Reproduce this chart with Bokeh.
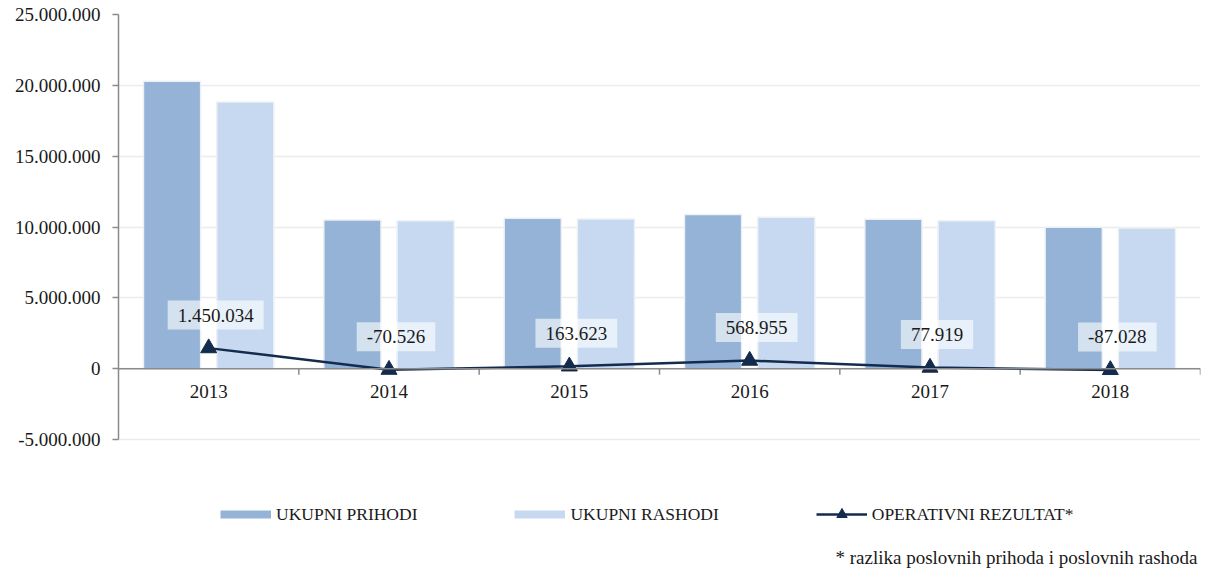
import numpy as np
from bokeh.plotting import figure
from bokeh.models import (ColumnDataSource, Range1d, FixedTicker, Span,
                          Legend, LegendItem, Label)
from bokeh.transform import dodge
from bokeh.core.properties import value
from bokeh.embed import file_html
from bokeh.resources import INLINE

# ---------------- data ----------------
years = ["2013", "2014", "2015", "2016", "2017", "2018"]
ukupni_prihodi = [20_280_000, 10_490_000, 10_610_000, 10_890_000, 10_540_000, 9_980_000]
ukupni_rashodi = [18_820_000, 10_450_000, 10_560_000, 10_680_000, 10_450_000, 9_930_000]
operativni_rezultat = [1_450_034, -70_526, 163_623, 568_955, 77_919, -87_028]
y_ticks = [-5_000_000, 0, 5_000_000, 10_000_000, 15_000_000, 20_000_000, 25_000_000]
series_names = ["UKUPNI PRIHODI", "UKUPNI RASHODI", "OPERATIVNI REZULTAT*"]
footnote = "* razlika poslovnih prihoda i poslovnih rashoda"


def fmt(v):
    return f"{v:,}".replace(",", ".")


FONT = "Liberation Serif"
TXT = "#1a1a1a"
C_PRI = "#95b3d7"
C_RAS = "#c6d9f1"
C_LINE = "#132b4d"
AX = "#8a8a8a"

# layout (pixels)
FIG_W, FIG_H = 1205, 568
BORDER_L, BORDER_R, BORDER_T = 118, 5, 14
AXIS_PX = 425                      # pixel height of the value axis span
FRAME_H = FIG_H - BORDER_T         # frame reaches the bottom of the canvas
y_lo, y_hi = y_ticks[0], y_ticks[-1]
y_start = y_hi - FRAME_H * (y_hi - y_lo) / AXIS_PX

pos = list(range(1, len(years) + 1))
bounds = [i + 0.5 for i in pos]
src = ColumnDataSource(dict(
    x=pos,
    zero=[0] * len(pos),
    year=years,
    pri=ukupni_prihodi,
    ras=ukupni_rashodi,
    op=operativni_rezultat,
    lab=[fmt(v) for v in operativni_rezultat],
))

p = figure(width=FIG_W, height=FIG_H, output_backend="svg", toolbar_location=None,
           x_range=Range1d(0.5, len(years) + 0.5),
           y_range=Range1d(y_start, y_hi),
           x_axis_location=None,
           min_border_left=BORDER_L, min_border_right=BORDER_R,
           min_border_top=BORDER_T, min_border_bottom=0)
p.outline_line_color = None
p.background_fill_color = "white"
p.xgrid.grid_line_color = None
p.xgrid.visible = False

# y axis
yax = p.yaxis[0]
yax.ticker = FixedTicker(ticks=y_ticks)
yax.bounds = (y_lo, y_hi)
yax.major_label_overrides = {t: fmt(t) for t in y_ticks}
yax.major_label_text_font = FONT
yax.major_label_text_font_size = "19px"
yax.major_label_text_color = TXT
yax.axis_line_color = AX
yax.axis_line_width = 1.5
yax.major_tick_line_color = AX
yax.major_tick_line_width = 1.5
yax.major_tick_out = 6
yax.major_tick_in = 0
yax.minor_tick_line_color = None
yax.major_label_standoff = 12

p.ygrid.ticker = FixedTicker(ticks=y_ticks)
p.ygrid.grid_line_color = "#ececec"
p.ygrid.grid_line_width = 1.5

# bars
r_pri = p.vbar(x=dodge("x", -0.203), top="pri", width=0.317, source=src,
               fill_color=C_PRI, line_color="#edf1f6", line_width=1.5)
r_ras = p.vbar(x=dodge("x", 0.203), top="ras", width=0.317, source=src,
               fill_color=C_RAS, line_color="#edf1f6", line_width=1.5)

# category axis drawn at zero
p.add_layout(Span(location=0, dimension="width", line_color=AX, line_width=1.5))
p.ray(x=bounds, y=[0] * len(bounds), length=6, length_units="screen",
      angle=-np.pi / 2, line_color=AX, line_width=1.5)
p.text("x", "zero", text="year", source=src, y_offset=23,
       text_align="center", text_baseline="middle",
       text_font=value(FONT), text_font_size="19px", text_color=TXT)

# line + markers
r_line = p.line("x", "op", source=src, line_color=C_LINE, line_width=2.5)
r_mark = p.scatter("x", "op", source=src, marker="triangle", size=16,
                   fill_color=C_LINE, line_color=C_LINE)

# data labels
p.text("x", "op", text="lab", source=src, x_offset=7, y_offset=-33,
       text_align="center", text_baseline="middle",
       text_font=value(FONT), text_font_size="19px", text_color=TXT,
       background_fill_color="white", background_fill_alpha=0.6,
       padding=(10, 8))

# legend (dummy thick lines give thin bar-like swatches)
d_pri = p.line(x=[np.nan], y=[np.nan], line_color=C_PRI, line_width=8)
d_ras = p.line(x=[np.nan], y=[np.nan], line_color=C_RAS, line_width=8)
legend = Legend(items=[
    LegendItem(label=series_names[0], renderers=[d_pri]),
    LegendItem(label=series_names[1], renderers=[d_ras]),
    LegendItem(label=series_names[2], renderers=[r_line, r_mark]),
], orientation="horizontal", location=(102, 41),
    glyph_width=51, glyph_height=26, label_standoff=5, spacing=97,
    padding=10, margin=0,
    label_text_font=FONT, label_text_font_size="17.5px", label_text_color=TXT,
    border_line_color=None, background_fill_alpha=0)
p.add_layout(legend)

p.add_layout(Label(x=1079, y=11, x_units="screen", y_units="screen",
                   text=footnote, text_align="right", text_baseline="middle",
                   text_font=FONT, text_font_size="19px", text_color=TXT))

open("out.html", "w").write(file_html(p, INLINE))
